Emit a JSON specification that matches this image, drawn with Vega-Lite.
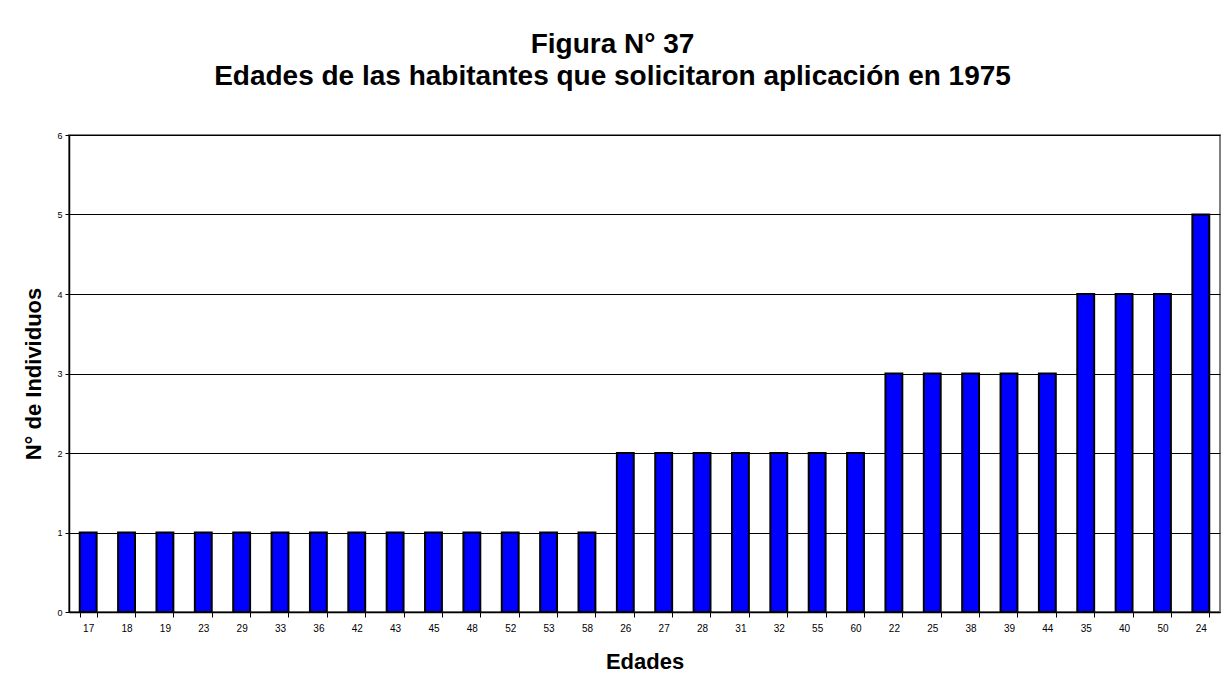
{
  "$schema": "https://vega.github.io/schema/vega-lite/v6.json",
  "width": 1151,
  "height": 477,
  "autosize": "none",
  "padding": {"left": 69, "top": 135, "right": 10, "bottom": 84},
  "background": "white",
  "title": {
    "text": ["Figura N° 37", "Edades de las habitantes que solicitaron aplicación en 1975"],
    "font": "Liberation Sans",
    "fontSize": 28,
    "fontWeight": "bold",
    "color": "black",
    "anchor": "middle",
    "dx": -32,
    "offset": 40,
    "lineHeight": 32
  },
  "data": {
    "values": [
      {"edad": "17", "n": 1}, {"edad": "18", "n": 1}, {"edad": "19", "n": 1},
      {"edad": "23", "n": 1}, {"edad": "29", "n": 1}, {"edad": "33", "n": 1},
      {"edad": "36", "n": 1}, {"edad": "42", "n": 1}, {"edad": "43", "n": 1},
      {"edad": "45", "n": 1}, {"edad": "48", "n": 1}, {"edad": "52", "n": 1},
      {"edad": "53", "n": 1}, {"edad": "58", "n": 1}, {"edad": "26", "n": 2},
      {"edad": "27", "n": 2}, {"edad": "28", "n": 2}, {"edad": "31", "n": 2},
      {"edad": "32", "n": 2}, {"edad": "55", "n": 2}, {"edad": "60", "n": 2},
      {"edad": "22", "n": 3}, {"edad": "25", "n": 3}, {"edad": "38", "n": 3},
      {"edad": "39", "n": 3}, {"edad": "44", "n": 3}, {"edad": "35", "n": 4},
      {"edad": "40", "n": 4}, {"edad": "50", "n": 4}, {"edad": "24", "n": 5}
    ]
  },
  "config": {
    "view": {"stroke": "#808080", "strokeWidth": 2},
    "font": "Liberation Sans"
  },
  "mark": {"type": "bar", "color": "#0000FF", "stroke": "black", "strokeWidth": 2},
  "encoding": {
    "x": {
      "field": "edad",
      "type": "ordinal",
      "sort": null,
      "scale": {"paddingInner": 0.56, "paddingOuter": 0.28},
      "axis": {
        "title": "Edades",
        "titleFontSize": 22,
        "titleFontWeight": "bold",
        "titleColor": "black",
        "titlePadding": 18,
        "labelAngle": 0,
        "labelFontSize": 10,
        "labelColor": "black",
        "labelPadding": 6,
        "domainColor": "black",
        "domainWidth": 1.5,
        "tickBand": "extent",
        "tickColor": "black",
        "tickSize": 5,
        "grid": false
      }
    },
    "y": {
      "field": "n",
      "type": "quantitative",
      "scale": {"domain": [0, 6], "nice": false},
      "axis": {
        "title": "N° de Individuos",
        "titleFontSize": 22,
        "titleFontWeight": "bold",
        "titleColor": "black",
        "titlePadding": 11,
        "values": [0, 1, 2, 3, 4, 5, 6],
        "labelFontSize": 9,
        "labelColor": "black",
        "labelPadding": 3,
        "domainColor": "black",
        "domainWidth": 1.5,
        "tickColor": "black",
        "tickSize": 4,
        "grid": true,
        "gridColor": "black",
        "gridWidth": 1
      }
    }
  }
}
